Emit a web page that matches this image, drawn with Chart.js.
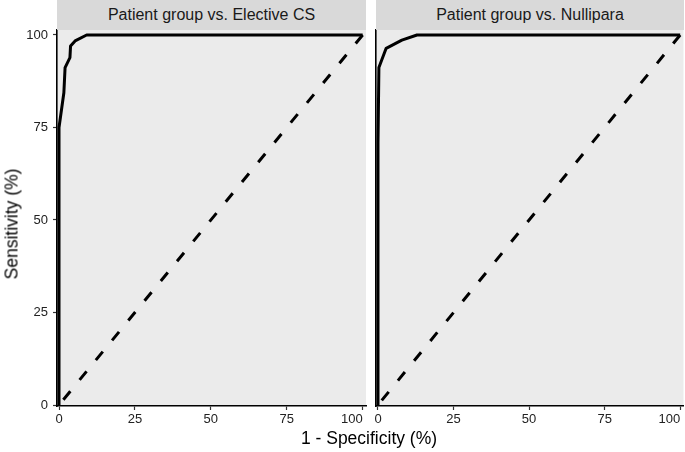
<!DOCTYPE html>
<html>
<head>
<meta charset="utf-8">
<script src="https://cdn.jsdelivr.net/npm/chart.js@4.4.1/dist/chart.umd.min.js"></script>
<style>
  body { margin: 0; width: 685px; height: 452px; background: #fff; position: relative; overflow: hidden;
         font-family: "Liberation Sans", Arial, sans-serif; }
  .panel { position: absolute; top: 0; height: 452px; }
  .strip { position: absolute; top: 0; height: 30px; background: #d9d9d9; color: #1a1a1a;
           font-size: 16px; line-height: 30px; text-align: center; z-index: 2; }
  .ytitle { position: absolute; left: 12px; top: 224px; transform: translate(-50%, -50%) rotate(-90deg);
            font-size: 17.5px; white-space: nowrap; color: #000; }
  .xtitle { position: absolute; left: 369px; top: 438px; transform: translate(-50%, -50%);
            font-size: 17.5px; white-space: nowrap; color: #000; }
</style>
</head>
<body>
<div class="panel" style="left:0;width:370px"><canvas id="left"></canvas></div>
<div class="panel" style="left:370px;width:315px"><canvas id="right"></canvas></div>
<div class="strip" id="strip0" style="left:57px;width:309px"></div>
<div class="strip" id="strip1" style="left:376px;width:308px"></div>
<div class="ytitle">Sensitivity (%)</div>
<div class="xtitle">1 - Specificity (%)</div>
<script>
// facet titles
const panelTitles = ['Patient group vs. Elective CS', 'Patient group vs. Nullipara'];

// ROC curve, patient group vs elective CS (1 - specificity, sensitivity)
const elecFpr = [0, 0, 1.6, 2.0, 3.6, 3.8, 5.3, 9.1, 100];
const elecTpr = [0, 75, 84.4, 91.2, 93.9, 97.0, 98.4, 100, 100];

// ROC curve, patient group vs nullipara
const nullFpr = [0, 0, 0.3, 2.7, 7.9, 12.9, 100];
const nullTpr = [0, 71, 91.2, 96.4, 98.6, 100, 100];

// chance line, drawn from the top right end down
const refLine = [100, 0];

const xTicks = [0, 25, 50, 75, 100];
const yTicks = [0, 25, 50, 75, 100];

document.getElementById('strip0').textContent = panelTitles[0];
document.getElementById('strip1').textContent = panelTitles[1];

Chart.defaults.font.family = '"Liberation Sans", Arial, sans-serif';

const panelBg = {
  id: 'panelBg',
  beforeDraw(chart) {
    const a = chart.chartArea;
    const c = chart.ctx;
    c.save();
    c.fillStyle = '#ebebeb';
    c.fillRect(a.left, a.top, a.right - a.left, a.bottom - a.top);
    c.restore();
  }
};

function toPoints(xs, ys) {
  return xs.map((x, i) => ({ x: x, y: ys[i] }));
}

function makePanel(id, fpr, tpr, showY) {
  const tickFont = { size: 13 };
  return new Chart(document.getElementById(id), {
    type: 'scatter',
    data: {
      datasets: [
        {
          data: toPoints(fpr, tpr),
          showLine: true, borderColor: '#000', borderWidth: 3,
          pointRadius: 0, borderJoinStyle: 'round', tension: 0
        },
        {
          data: toPoints(refLine, refLine),
          showLine: true, borderColor: '#000', borderWidth: 3,
          pointRadius: 0, borderDash: [11, 14.6]
        }
      ]
    },
    options: {
      responsive: true,
      maintainAspectRatio: false,
      animation: false,
      layout: { padding: { top: 30, bottom: 0, left: 0, right: showY ? 4 : 1.5 } },
      plugins: { legend: { display: false }, tooltip: { enabled: false } },
      scales: {
        x: {
          type: 'linear', min: -0.66, max: 101.1,
          afterBuildTicks: s => { s.ticks = xTicks.map(v => ({ value: v })); },
          ticks: {
            font: tickFont, color: '#222', padding: 2, maxRotation: 0, autoSkip: false,
            // last label sits left of its tick, as in the original
            callback: v => v === 100 ? '100      ' : String(v)
          },
          grid: { drawOnChartArea: false, drawTicks: true, tickLength: 4, tickColor: '#333', tickWidth: 1.2 },
          border: { display: true, color: '#000', width: 1.6 },
          afterFit: s => { s.height = 46; s.paddingLeft = 0; s.paddingRight = 0; }
        },
        y: {
          type: 'linear', min: -0.27, max: 101.35,
          afterBuildTicks: s => { s.ticks = yTicks.map(v => ({ value: v })); },
          ticks: { display: showY, font: tickFont, color: '#222', padding: 5 },
          grid: { drawOnChartArea: false, drawTicks: showY, tickLength: 4, tickColor: '#333', tickWidth: 1.2 },
          border: { display: true, color: '#000', width: 1.6 },
          afterFit: s => { s.width = showY ? 57 : 6; s.paddingTop = 0; s.paddingBottom = 0; }
        }
      }
    },
    plugins: [panelBg]
  });
}

makePanel('left', elecFpr, elecTpr, true);
makePanel('right', nullFpr, nullTpr, false);
</script>
</body>
</html>
